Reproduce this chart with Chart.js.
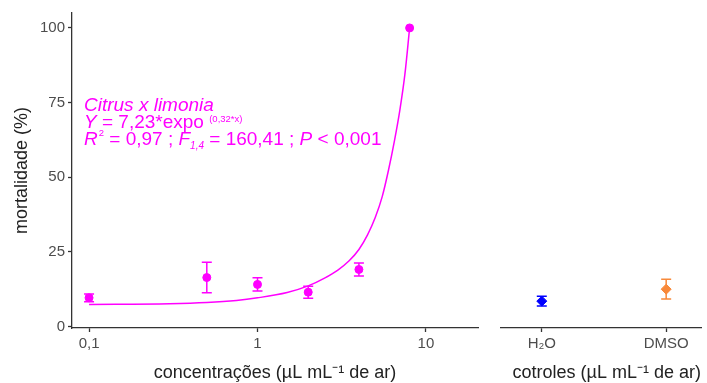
<!DOCTYPE html>
<html><head><meta charset="utf-8">
<script src="https://cdn.jsdelivr.net/npm/chart.js@4/dist/chart.umd.min.js"></script>
<style>
html,body{margin:0;padding:0;background:#fff;overflow:hidden}
#wrap{position:relative;width:707px;height:383px}
canvas{position:absolute;top:0}
</style></head><body>
<div id="wrap">
<canvas id="left" width="490" height="383" style="left:0"></canvas>
<canvas id="right" width="217" height="383" style="left:490px"></canvas>
</div>
<script>
// ---- data ----
const concentrations = [0.1, 0.5, 1, 2, 4, 8];
const mortality = [9.6, 16.4, 14.1, 11.5, 19.1, 100];
const mortalityErr = [1.3, 5.1, 2.2, 2.0, 2.2, 0];
const curveX = [0.1, 0.3, 0.5, 0.75, 1, 1.5, 2, 2.5, 3, 3.5, 4, 4.5, 5, 5.5, 6, 6.5, 7, 7.5, 8];
const curveY = [7.4, 7.6, 8.0, 8.7, 9.6, 11.4, 13.6, 16.2, 18.9, 22.0, 25.8, 30.7, 36.5, 43.5, 52.5, 62.2, 72.5, 84.5, 100];
const controls = ['H\u2082O', 'DMSO'];
const controlPos = [1, 2];
const controlMortality = [8.5, 12.5];
const controlErr = [1.6, 3.3];
const controlColors = ['#0000FF', '#F8893A'];
const xTicks = [0.1, 1, 10];
const xTickLabels = ['0,1', '1', '10'];
const yTicks = [0, 25, 50, 75, 100];

const FONT = "'Liberation Sans', Arial, Helvetica, sans-serif";
const MAG = '#FF00FF';
const AXIS = '#333333';
const TICKC = '#4d4d4d';

function makeErrorBars(xs, ys, errs, colors) {
  return {
    id: 'errorBars',
    beforeDatasetsDraw(chart) {
      const ctx = chart.ctx, sx = chart.scales.x, sy = chart.scales.y;
      ctx.save();
      ctx.lineWidth = 1.5;
      xs.forEach((xv, i) => {
        const e = errs[i]; if (!e) return;
        const px = sx.getPixelForValue(xv);
        const t = sy.getPixelForValue(ys[i] + e), b = sy.getPixelForValue(ys[i] - e);
        ctx.strokeStyle = Array.isArray(colors) ? colors[i] : colors;
        ctx.beginPath();
        ctx.moveTo(px, t); ctx.lineTo(px, b);
        ctx.moveTo(px - 5, t); ctx.lineTo(px + 5, t);
        ctx.moveTo(px - 5, b); ctx.lineTo(px + 5, b);
        ctx.stroke();
      });
      ctx.restore();
    }
  };
}

function drawRuns(ctx, x, y, runs) {
  let cx = x;
  runs.forEach(r => {
    ctx.font = (r.it ? 'italic ' : '') + r.size + 'px ' + FONT;
    ctx.fillText(r.t, cx, y + (r.dy || 0));
    cx += ctx.measureText(r.t).width + (r.gap || 0);
  });
}

const annotation = {
  id: 'annot',
  afterDraw(chart) {
    const ctx = chart.ctx;
    const x0 = chart.chartArea.left + 12;
    ctx.save();
    ctx.fillStyle = MAG;
    ctx.textBaseline = 'alphabetic';
    drawRuns(ctx, x0, 111, [{t: 'Citrus x limonia', it: true, size: 19}]);
    drawRuns(ctx, x0, 128, [
      {t: 'Y', it: true, size: 19}, {t: ' = 7,23*expo ', size: 19},
      {t: '(0,32*x)', size: 9.5, dy: -6}]);
    drawRuns(ctx, x0, 145, [
      {t: 'R', it: true, size: 19, gap: 1}, {t: '2', size: 9.5, dy: -9},
      {t: ' = 0,97 ; ', size: 19}, {t: 'F', it: true, size: 19},
      {t: '1,4', it: true, size: 10, dy: 4}, {t: ' = 160,41 ; ', size: 19},
      {t: 'P', it: true, size: 19}, {t: ' < 0,001', size: 19}]);
    ctx.restore();
  }
};

Chart.defaults.font.family = FONT;
Chart.defaults.devicePixelRatio = 1;

const gridOpts = {display: true, drawOnChartArea: false, drawTicks: true, tickLength: 4, tickColor: AXIS, tickWidth: 1.3};
const borderOpts = {display: true, color: AXIS, width: 1.3};

new Chart(document.getElementById('left'), {
  type: 'scatter',
  data: {
    datasets: [
      {
        type: 'scatter',
        data: concentrations.map((c, i) => ({x: c, y: mortality[i]})),
        backgroundColor: MAG, borderColor: MAG, pointRadius: 4, pointHoverRadius: 4, order: 1
      },
      {
        type: 'line',
        data: curveX.map((c, i) => ({x: c, y: curveY[i]})),
        borderColor: MAG, borderWidth: 1.5, pointRadius: 0, fill: false,
        cubicInterpolationMode: 'monotone', order: 2
      }
    ]
  },
  options: {
    responsive: false, animation: false,
    layout: {padding: {top: 13, right: 12, left: 0, bottom: 0}},
    plugins: {legend: {display: false}, tooltip: {enabled: false}},
    scales: {
      x: {
        type: 'logarithmic', min: 0.0792, max: 20.37,
        afterBuildTicks: s => { s.ticks = xTicks.map(v => ({value: v})); },
        afterFit: s => { s.height = 55; },
        ticks: {autoSkip: false, maxRotation: 0, padding: 3, color: TICKC, font: {size: 15},
          callback: v => xTickLabels[xTicks.indexOf(v)]},
        grid: gridOpts, border: borderOpts,
        title: {display: true, text: 'concentrações (µL mL\u207B\u00B9 de ar)', color: '#222', font: {size: 18}, padding: {top: 0, bottom: -1}}
      },
      y: {
        type: 'linear', min: -0.5, max: 105,
        afterBuildTicks: s => { s.ticks = yTicks.map(v => ({value: v})); },
        afterFit: s => { s.width = 72; },
        ticks: {padding: 3, color: TICKC, font: {size: 15}},
        grid: gridOpts, border: borderOpts,
        title: {display: true, text: 'mortalidade (%)', color: '#222', font: {size: 18}, padding: {top: 11, bottom: 0}}
      }
    }
  },
  plugins: [makeErrorBars(concentrations, mortality, mortalityErr, MAG), annotation]
});

new Chart(document.getElementById('right'), {
  type: 'scatter',
  data: {
    datasets: [{
      data: controlPos.map((p, i) => ({x: p, y: controlMortality[i]})),
      backgroundColor: controlColors, borderColor: controlColors,
      pointStyle: 'rectRot', pointRadius: 5, pointHoverRadius: 5
    }]
  },
  options: {
    responsive: false, animation: false,
    layout: {padding: {top: 13, right: 0, left: 11, bottom: 0}},
    plugins: {legend: {display: false}, tooltip: {enabled: false}},
    scales: {
      x: {
        type: 'linear', min: 0.672, max: 2.28,
        afterBuildTicks: s => { s.ticks = controlPos.map(v => ({value: v})); },
        afterFit: s => { s.height = 55; },
        ticks: {autoSkip: false, maxRotation: 0, padding: 3, color: TICKC, font: {size: 15},
          callback: v => controls[controlPos.indexOf(v)]},
        grid: gridOpts, border: borderOpts,
        title: {display: true, text: 'cotroles (µL mL\u207B\u00B9 de ar)', color: '#222', font: {size: 18}, align: 'end', padding: {top: 0, bottom: -1}}
      },
      y: {type: 'linear', min: -0.5, max: 105, display: false}
    }
  },
  plugins: [makeErrorBars(controlPos, controlMortality, controlErr, controlColors)]
});
</script>
</body></html>
